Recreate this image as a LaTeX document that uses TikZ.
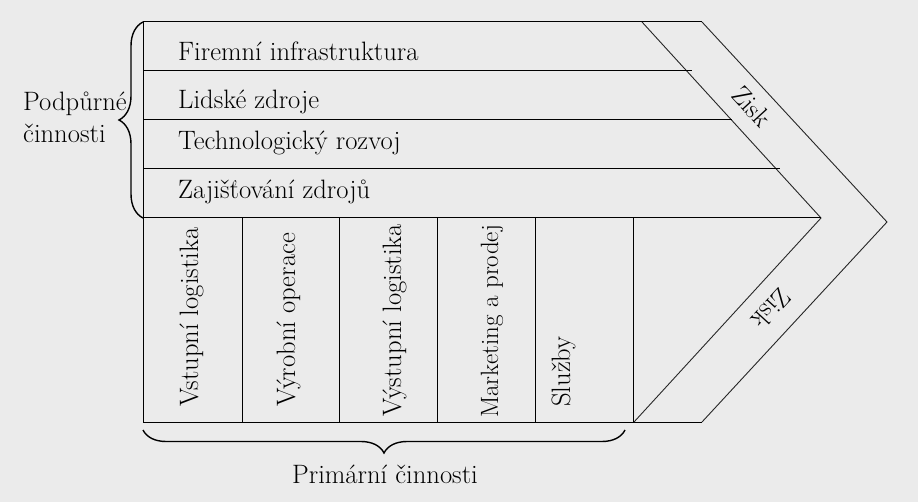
\documentclass[tikz,border=0pt]{standalone}
\usetikzlibrary{decorations.pathreplacing}
\definecolor{bg}{HTML}{EBEBEB}
\tikzset{
  lbl/.style={inner sep=0pt, font=\fontsize{26.6}{32}\selectfont},
  hlbl/.style={lbl, anchor=base west},
  vlbl/.style={lbl, anchor=base west, rotate=90},
  edge/.style={line width=1pt, black},
  diag/.style={line width=0.9pt, black!85},
  bracestyle/.style={decorate, line width=1.4pt, decoration={brace, amplitude=24pt}}
}
\begin{document}
\begin{tikzpicture}[x=1pt,y=-1pt]
\fill[bg] (0,0) rectangle (918,502);
\useasboundingbox (0,0) rectangle (918,502);
% coordinates
\coordinate (tl) at (143,22);
\coordinate (to) at (702,22);
\coordinate (ti) at (642,22);
\coordinate (tipo) at (887,222);
\coordinate (tipi) at (821,218);
\coordinate (bo) at (702,422);
\coordinate (bi) at (634,422);
\coordinate (bl) at (143,422);
% outline
\draw[edge] (ti) -- (tl) -- (bl) -- (bi);
\draw[edge] (ti) -- (to);
\draw[edge] (bi) -- (bo);
\draw[diag] (to) -- (tipo) -- (bo);
\draw[diag] (ti) -- (tipi) -- (bi);
% support rows
\draw[edge] (143,71) -- (692,71);
\draw[edge] (143,120) -- (732,120);
\draw[edge] (143,169) -- (780,169);
\draw[edge] (143,218) -- (tipi);
% primary columns
\foreach \x in {242,339,437,535,633} \draw[edge] (\x,218) -- (\x,422);
% support texts
\node[hlbl] (fi) at (178,60.7) {Firemní infrastruktura};
\node[hlbl] (lz) at (178,108.5) {Lidské zdroje};
\node[hlbl] (tr) at (178,150) {Technologický rozvoj};
\node[hlbl] (zz) at (178,198.5) {Zajišťování zdrojů};
% primary texts
\node[vlbl] (vl) at (198,407) {Vstupní logistika};
\node[vlbl] (vo) at (295,407) {Výrobní operace};
\node[vlbl] (vyl) at (401,417) {Výstupní logistika};
\node[vlbl, font=\fontsize{25}{30}\selectfont] (mp) at (498,418) {Marketing a prodej};
\node[vlbl] (sl) at (570,407) {Služby};
% Zisk
\node[lbl, rotate=-47.6] (z1) at (752,107) {Zisk};
\node[lbl, rotate=-132.4] (z2) at (771,309) {Zisk};
% braces
\draw[bracestyle] (143,218) -- (143,22);
\draw[bracestyle, decoration={amplitude=23pt}] (625,430) -- (143,430);
\node[hlbl] (pc1) at (23,110.7) {Podpůrné};
\node[hlbl] (pc2) at (23,143) {činnosti};
\node[lbl, anchor=base] (prc) at (385,483) {Primární činnosti};
\end{tikzpicture}
\end{document}
